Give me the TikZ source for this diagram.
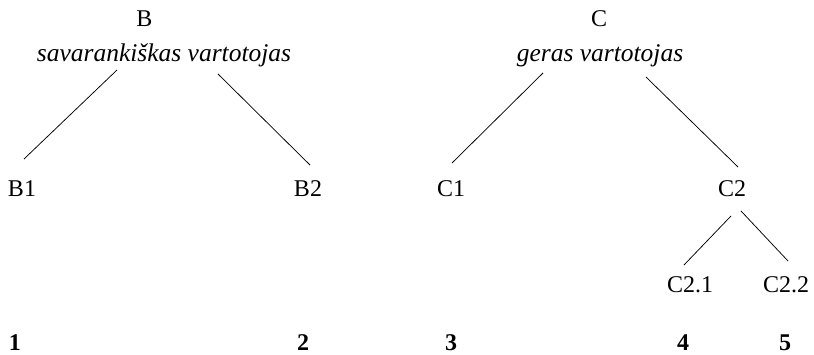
\documentclass[tikz,border=0pt]{standalone}
\usepackage{fontspec}
\setmainfont{Liberation Serif}
\begin{document}
\begin{tikzpicture}[x=1pt,y=-1pt,
  lbl/.style={inner sep=0pt,anchor=base,font=\fontsize{24}{28}\selectfont},
  ital/.style={inner sep=0pt,anchor=base,font=\fontsize{25.5}{30}\selectfont\itshape},
  num/.style={inner sep=0pt,anchor=base,font=\fontsize{24}{28}\selectfont\bfseries},
  edge/.style={draw=black,line width=0.75pt}]
\useasboundingbox (0,0) rectangle (814,355);
% top labels
\node[lbl] (B) at (144.5,27) {B};
\node[ital] (Bt) at (164,62) {savarankiškas vartotojas};
\node[lbl] (C) at (599,27) {C};
\node[ital] (Ct) at (600,62) {geras vartotojas};
% second level
\node[lbl] (B1) at (22,197) {B1};
\node[lbl] (B2) at (308,197) {B2};
\node[lbl] (C1) at (451,197) {C1};
\node[lbl] (C2) at (732,197) {C2};
% third level
\node[lbl] (C21) at (690,293) {C2.1};
\node[lbl] (C22) at (786,293) {C2.2};
% numbers
\node[num] (n1) at (15,351) {1};
\node[num] (n2) at (303,351) {2};
\node[num] (n3) at (451,351) {3};
\node[num] (n4) at (683,351) {4};
\node[num] (n5) at (785,351) {5};
% connectors
\draw[edge] ([xshift=-47pt,yshift=-8pt]Bt.base) -- ([xshift=2pt,yshift=38pt]B1.base);
\draw[edge] ([xshift=54pt,yshift=-12pt]Bt.base) -- ([xshift=2pt,yshift=32pt]B2.base);
\draw[edge] ([xshift=-57pt,yshift=-11pt]Ct.base) -- ([xshift=1pt,yshift=34pt]C1.base);
\draw[edge] ([xshift=46pt,yshift=-15pt]Ct.base) -- ([xshift=6pt,yshift=30pt]C2.base);
\draw[edge] ([xshift=-1pt,yshift=-19pt]C2.base) -- ([xshift=-6pt,yshift=28pt]C21.base);
\draw[edge] ([xshift=9pt,yshift=-14pt]C2.base) -- ([xshift=2pt,yshift=32pt]C22.base);
\end{tikzpicture}
\end{document}
